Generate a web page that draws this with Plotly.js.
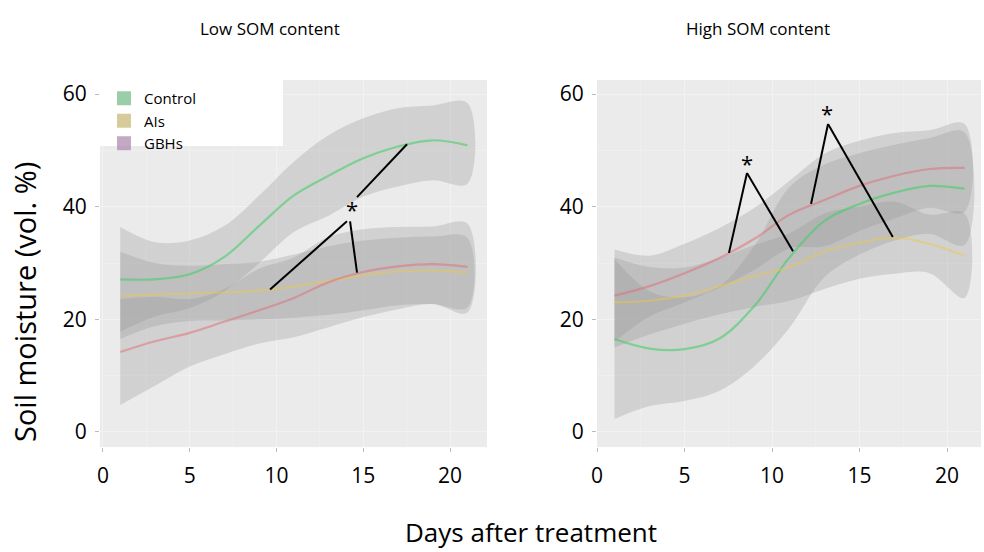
<!DOCTYPE html>
<html>
<head>
<meta charset="utf-8">
<script src="https://cdn.plot.ly/plotly-3.0.1.min.js"></script>
<style>html,body{margin:0;padding:0;background:#fff;}#chart{width:984px;height:552px;}</style>
</head>
<body>
<div id="chart"></div>
<script>
// ---- data ----
const days = [1, 3, 5, 7, 9, 11, 13, 15, 17, 19, 21];
const seriesNames = ["Control", "AIs", "GBHs"];

// Low SOM content
const lowControlMean  = [27.1, 27.1, 28.0, 31.1, 36.6, 42.0, 45.5, 48.6, 50.7, 51.8, 50.9];
const lowControlUpper = [36.4, 33.7, 34.0, 36.6, 42.0, 48.0, 52.7, 55.7, 57.5, 58.0, 58.4];
const lowControlLower = [17.8, 20.5, 22.0, 25.0, 30.0, 35.5, 38.4, 41.8, 43.6, 44.7, 44.1];
const lowAIsMean  = [24.2, 24.4, 24.6, 24.8, 25.1, 25.8, 26.8, 27.8, 28.5, 28.7, 28.3];
const lowAIsUpper = [32.0, 30.0, 29.5, 29.8, 30.2, 31.5, 33.0, 34.0, 34.5, 34.7, 34.5];
const lowAIsLower = [16.5, 18.8, 19.7, 19.8, 20.0, 20.3, 20.8, 21.6, 22.5, 22.7, 22.1];
const lowGBHsMean  = [14.2, 16.1, 17.6, 19.6, 21.6, 23.8, 26.6, 28.4, 29.4, 29.8, 29.3];
const lowGBHsUpper = [23.6, 24.0, 23.6, 25.4, 29.0, 31.0, 34.6, 36.0, 36.4, 36.5, 37.0];
const lowGBHsLower = [4.8, 8.2, 11.6, 13.8, 15.7, 16.8, 18.6, 20.4, 21.8, 22.7, 21.2];

// High SOM content
const highControlMean  = [16.5, 14.8, 14.7, 16.6, 22.4, 31.0, 37.5, 40.5, 42.5, 43.7, 43.2];
const highControlUpper = [30.7, 25.0, 23.9, 25.9, 33.1, 43.5, 47.5, 49.5, 51.0, 52.2, 53.2];
const highControlLower = [2.3, 4.6, 5.5, 7.3, 11.7, 18.5, 27.5, 31.5, 34.0, 35.2, 33.2];
const highAIsMean  = [23.0, 23.3, 24.2, 25.9, 27.7, 29.3, 32.1, 33.6, 34.5, 33.4, 31.3];
const highAIsUpper = [31.0, 29.3, 29.2, 30.9, 33.2, 35.3, 38.8, 40.0, 40.9, 38.6, 38.8];
const highAIsLower = [15.0, 17.3, 19.2, 20.9, 22.2, 23.3, 25.4, 27.2, 28.1, 28.2, 23.8];
const highGBHsMean  = [24.2, 25.9, 28.2, 30.9, 34.3, 38.6, 41.2, 43.7, 45.5, 46.7, 46.9];
const highGBHsUpper = [32.4, 31.3, 33.4, 36.2, 39.8, 44.6, 49.4, 51.7, 53.1, 53.6, 54.7];
const highGBHsLower = [16.0, 20.5, 23.0, 25.6, 28.8, 32.6, 33.0, 35.7, 37.9, 39.8, 39.1];

// significance markers: [x0, y0, x1, y1] in data units
const lowConnectors = [[14.64, 41.7, 17.52, 51.1], [14.06, 37.4, 9.63, 25.3], [14.24, 37.4, 14.64, 28.3]];
const lowStars = [[14.35, 39.6]];
const highConnectors = [[8.57, 46.0, 7.54, 31.8], [8.57, 46.0, 11.2, 32.1], [13.2, 54.7, 12.23, 40.5], [13.2, 54.7, 16.9, 34.6]];
const highStars = [[8.57, 47.8], [13.14, 56.7]];

const xTicks = [0, 5, 10, 15, 20];
const yTicks = [0, 20, 40, 60];

// ---- styles ----
const lineColors = ["rgba(70,205,105,0.6)", "rgba(238,200,70,0.45)", "rgba(225,105,115,0.5)"];
const keyColors = ["rgba(120,190,140,0.75)", "rgba(205,190,130,0.8)", "rgba(175,140,175,0.75)"];
const bandFill = "rgba(150,150,150,0.3)";
const FONT = "Open Sans, sans-serif";

function band(up, lo, xa, ya) {
  return {x: days.concat(days.slice().reverse()), y: up.concat(lo.slice().reverse()),
    type: "scatter", mode: "lines", fill: "toself", fillcolor: bandFill,
    line: {width: 0, shape: "spline"}, hoverinfo: "skip", showlegend: false, xaxis: xa, yaxis: ya};
}
function line(y, i, xa, ya) {
  return {x: days, y: y, type: "scatter", mode: "lines", name: seriesNames[i],
    line: {color: lineColors[i], width: 2.2, shape: "spline"}, showlegend: false, xaxis: xa, yaxis: ya};
}

const traces = [
  band(lowControlUpper, lowControlLower, "x", "y"),
  band(lowAIsUpper, lowAIsLower, "x", "y"),
  band(lowGBHsUpper, lowGBHsLower, "x", "y"),
  band(highControlUpper, highControlLower, "x2", "y2"),
  band(highAIsUpper, highAIsLower, "x2", "y2"),
  band(highGBHsUpper, highGBHsLower, "x2", "y2"),
  line(lowControlMean, 0, "x", "y"), line(lowAIsMean, 1, "x", "y"), line(lowGBHsMean, 2, "x", "y"),
  line(highControlMean, 0, "x2", "y2"), line(highAIsMean, 1, "x2", "y2"), line(highGBHsMean, 2, "x2", "y2")
];
// legend keys
seriesNames.forEach((n, i) => traces.push({x: [null], y: [null], type: "scatter", mode: "markers", name: n,
  marker: {symbol: "square", size: 14, color: keyColors[i]}, xaxis: "x", yaxis: "y", showlegend: true}));

const shapes = [];
function addConn(arr, xr, yr) {
  arr.forEach(c => shapes.push({type: "line", xref: xr, yref: yr, x0: c[0], y0: c[1], x1: c[2], y1: c[3],
    line: {color: "#000", width: 2}, layer: "above"}));
}
addConn(lowConnectors, "x", "y");
addConn(highConnectors, "x2", "y2");
// legend white box
shapes.push({type: "rect", xref: "paper", yref: "paper", x0: 100/984, x1: 283/984, y0: 1 - 146/552, y1: 1 - 80/552,
  fillcolor: "#ffffff", line: {width: 0}, layer: "above"});

const annotations = [];
function addStars(arr, xr, yr) {
  arr.forEach(s => annotations.push({x: s[0], y: s[1], xref: xr, yref: yr, text: "*", showarrow: false,
    font: {family: FONT, size: 22, color: "#000"}, yanchor: "middle"}));
}
addStars(lowStars, "x", "y");
addStars(highStars, "x2", "y2");
annotations.push(
  {text: "Low SOM content", x: 270/984, y: 1 - 28/552, xref: "paper", yref: "paper", showarrow: false,
   font: {family: FONT, size: 17, color: "#000"}, xanchor: "center", yanchor: "middle"},
  {text: "High SOM content", x: 758/984, y: 1 - 28/552, xref: "paper", yref: "paper", showarrow: false,
   font: {family: FONT, size: 17, color: "#000"}, xanchor: "center", yanchor: "middle"},
  {text: "Soil moisture (vol. %)", x: 24/984, y: 1 - 302/552, xref: "paper", yref: "paper", showarrow: false,
   textangle: -90, font: {family: FONT, size: 29, color: "#000"}, xanchor: "center", yanchor: "middle"},
  {text: "Days after treatment", x: 531/984, y: 1 - 532/552, xref: "paper", yref: "paper", showarrow: false,
   font: {family: FONT, size: 26, color: "#000"}, xanchor: "center", yanchor: "middle"}
);

function xax(domain, range) {
  return {domain: domain, range: range, tickvals: xTicks, ticks: "outside", ticklen: 4, tickcolor: "#bbbbbb",
    ticklabelstandoff: 6, tickfont: {family: FONT, size: 21, color: "#000"}, showgrid: true,
    gridcolor: "#f2f2f2", gridwidth: 1, zeroline: false, showline: false, fixedrange: true,
    minor: {dtick: 2.5, showgrid: true, gridcolor: "#efefef", gridwidth: 1}};
}
function yax(anchor) {
  return {domain: [0.19, 0.855], range: [-2.7, 62.5], tickvals: yTicks, ticks: "outside", ticklen: 4,
    tickcolor: "#bbbbbb", ticklabelstandoff: 4, tickfont: {family: FONT, size: 21, color: "#000"},
    showgrid: true, gridcolor: "#f2f2f2", gridwidth: 1, zeroline: false, showline: false, anchor: anchor,
    minor: {dtick: 10, showgrid: true, gridcolor: "#efefef", gridwidth: 1}};
}

const layout = {
  width: 984, height: 552, margin: {l: 0, r: 0, t: 0, b: 0},
  paper_bgcolor: "#ffffff", plot_bgcolor: "#ebebeb",
  xaxis: Object.assign(xax([100/984, 487/984], [-0.17, 22.13]), {anchor: "y"}),
  yaxis: yax("x"),
  xaxis2: Object.assign(xax([597/984, 981/984], [0, 21.94]), {anchor: "y2"}),
  yaxis2: yax("x2"),
  showlegend: true,
  legend: {x: 104/984, y: 1 - 82/552, xanchor: "left", yanchor: "top", bgcolor: "rgba(0,0,0,0)",
    font: {family: FONT, size: 15, color: "#000"}, itemwidth: 30, tracegroupgap: 0},
  shapes: shapes, annotations: annotations
};

Plotly.newPlot("chart", traces, layout, {displayModeBar: false, staticPlot: true});
</script>
</body>
</html>
